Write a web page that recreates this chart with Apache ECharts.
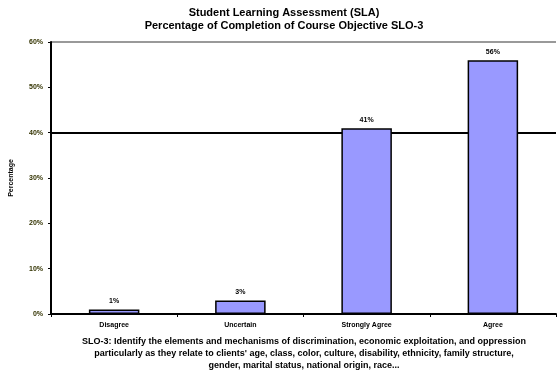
<!DOCTYPE html>
<html>
<head>
<meta charset="utf-8">
<script src="https://cdn.jsdelivr.net/npm/echarts@6/dist/echarts.min.js"></script>
<style>
  html, body { margin: 0; padding: 0; background: #fff; }
  #chart { width: 557px; height: 377px; }
</style>
</head>
<body>
<div id="chart"></div>
<script>
    'use strict';

    var titleLines = [
        'Student Learning Assessment (SLA)',
        'Percentage of Completion of Course Objective SLO-3'
    ];
    var categories = ['Disagree', 'Uncertain', 'Strongly Agree', 'Agree'];
    var percentValues = [1, 3, 41, 56];
    var yTicks = [0, 10, 20, 30, 40, 50, 60];
    var footnoteLines = [
        'SLO-3: Identify the elements and mechanisms of discrimination, economic exploitation, and oppression',
        'particularly as they relate to clients\' age, class, color, culture, disability, ethnicity, family structure,',
        'gender, marital status, national origin, race...'
    ];

    var FONT = '"Liberation Sans", Arial, sans-serif';

    var chart = echarts.init(document.getElementById('chart'), null, { renderer: 'canvas' });

    chart.setOption({
        animation: false,
        backgroundColor: '#fff',
        grid: { left: 50, right: 1, top: 42, bottom: 63 },
        graphic: [
            {
                type: 'text', x: 284, y: 6,
                style: {
                    text: titleLines.join('\n'),
                    font: 'bold 11px ' + FONT, fill: '#000',
                    textAlign: 'center', textVerticalAlign: 'top', lineHeight: 13
                }
            },
            {
                type: 'text', x: 304, y: 336,
                style: {
                    text: footnoteLines.join('\n'),
                    font: 'bold 9px ' + FONT, fill: '#000',
                    textAlign: 'center', textVerticalAlign: 'top', lineHeight: 12
                }
            }
        ],
        xAxis: {
            type: 'category',
            data: categories,
            axisLine: { lineStyle: { color: '#000', width: 2 } },
            axisTick: { show: true, length: 3, lineStyle: { color: '#000' } },
            axisLabel: { color: '#000', fontFamily: FONT, fontWeight: 'bold', fontSize: 7, margin: 8 }
        },
        yAxis: {
            type: 'value',
            min: yTicks[0],
            max: yTicks[yTicks.length - 1],
            interval: 10,
            name: 'Percentage',
            nameLocation: 'middle',
            nameGap: 36,
            nameTextStyle: { color: '#000', fontFamily: FONT, fontWeight: 'bold', fontSize: 7 },
            axisLine: { show: true, lineStyle: { color: '#000', width: 2 } },
            axisTick: { show: true, length: 3, lineStyle: { color: '#000', width: 1 } },
            axisLabel: {
                color: '#333300', fontFamily: FONT, fontWeight: 'bold', fontSize: 7, margin: 8,
                formatter: function (v) { return v + '%'; }
            },
            splitLine: {
                show: true,
                lineStyle: {
                    width: 2,
                    color: ['transparent', 'transparent', 'transparent', 'transparent', '#000', 'transparent', '#999']
                }
            }
        },
        series: [{
            type: 'bar',
            data: percentValues,
            barWidth: '40%',
            itemStyle: { color: '#9999ff', borderColor: '#000', borderWidth: 1.5 },
            label: {
                show: true, position: 'top', distance: 5,
                color: '#000', fontFamily: FONT, fontWeight: 'bold', fontSize: 7,
                formatter: '{c}%'
            }
        }]
    });
</script>
</body>
</html>
